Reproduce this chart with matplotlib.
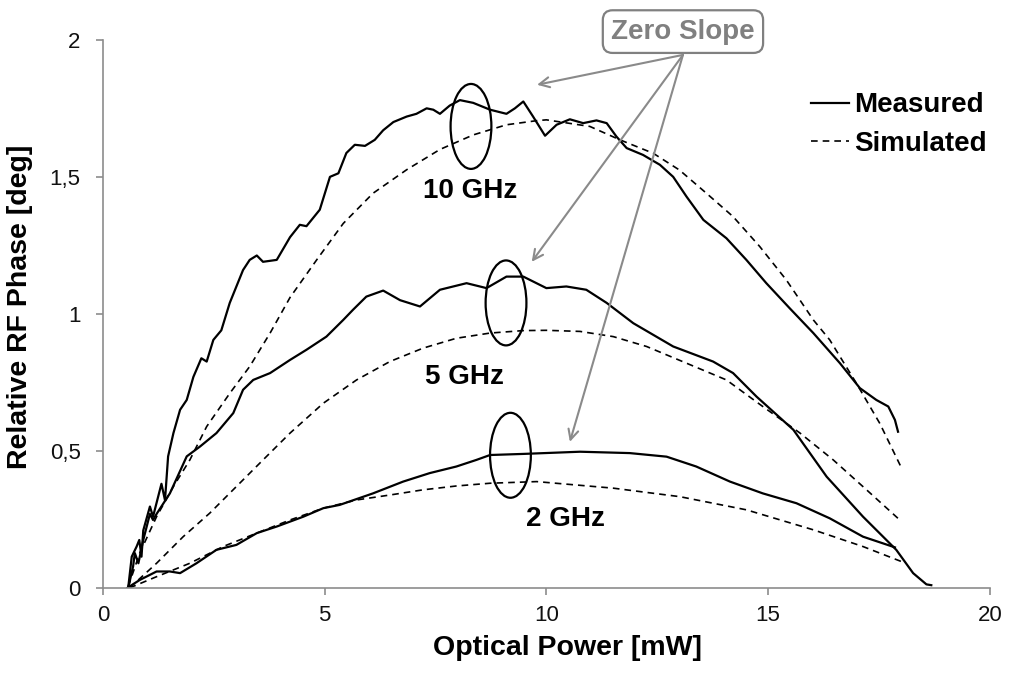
import matplotlib
matplotlib.use("Agg")
import matplotlib.pyplot as plt
from matplotlib.patches import Ellipse
from matplotlib.ticker import FuncFormatter

plt.rcParams['font.family'] = ['Liberation Sans', 'DejaVu Sans']

# ---- data ----
# 10 GHz measured
x10_meas = [0.57, 0.65, 0.76, 0.82, 0.87, 0.91, 1.06, 1.13, 1.32, 1.40, 1.47, 1.59, 1.74, 1.89,
            2.04, 2.22, 2.34, 2.49, 2.67, 2.86, 3.01, 3.16, 3.31, 3.47, 3.61, 3.92, 4.22, 4.44,
            4.59, 4.89, 5.12, 5.31, 5.49, 5.68, 5.91, 6.13, 6.32, 6.55, 6.85, 7.07, 7.30, 7.45,
            7.60, 7.82, 8.05, 8.35, 8.73, 9.10, 9.29, 9.48, 9.70, 9.97, 10.23, 10.53, 10.83,
            11.13, 11.36, 11.58, 11.81, 12.18, 12.56, 12.86, 13.16, 13.54, 14.06, 14.51, 14.96,
            15.49, 16.02, 16.62, 17.07, 17.44, 17.71, 17.86, 17.93]
y10_meas = [0.0, 0.114, 0.151, 0.175, 0.114, 0.21, 0.297, 0.26, 0.38, 0.32, 0.48, 0.565, 0.65, 0.686,
            0.77, 0.838, 0.826, 0.905, 0.94, 1.04, 1.10, 1.16, 1.197, 1.213, 1.19, 1.197, 1.28, 1.325,
            1.32, 1.38, 1.50, 1.513, 1.587, 1.617, 1.613, 1.635, 1.67, 1.70, 1.72, 1.73, 1.75, 1.745,
            1.73, 1.76, 1.78, 1.77, 1.745, 1.73, 1.75, 1.775, 1.72, 1.65, 1.69, 1.71, 1.696,
            1.706, 1.696, 1.647, 1.605, 1.58, 1.544, 1.50, 1.428, 1.343, 1.276, 1.197, 1.112,
            1.02, 0.93, 0.82, 0.729, 0.686, 0.662, 0.613, 0.57]

# 10 GHz simulated
x10_sim = [0.57, 0.83, 1.21, 1.59, 1.96, 2.34, 2.86, 3.31, 3.77, 4.22, 4.82, 5.42, 6.09, 6.85,
           7.60, 8.35, 9.10, 9.78, 10.0, 10.98, 11.66, 12.41, 13.0, 13.61, 14.21, 14.81, 15.41,
           16.02, 16.39, 16.99, 17.52, 18.01]
y10_sim = [0.005, 0.127, 0.26, 0.37, 0.467, 0.589, 0.71, 0.808, 0.93, 1.06, 1.197, 1.33, 1.44, 1.526,
           1.60, 1.653, 1.69, 1.705, 1.708, 1.684, 1.635, 1.586, 1.525, 1.44, 1.355, 1.246, 1.124,
           0.978, 0.905, 0.747, 0.60, 0.437]

# 5 GHz measured
x5_meas = [0.57, 0.68, 0.72, 0.80, 0.91, 1.06, 1.13, 1.21, 1.51, 1.89, 2.19, 2.56, 2.94, 3.16,
           3.39, 3.77, 4.22, 4.59, 5.04, 5.42, 5.64, 5.94, 6.32, 6.70, 7.15, 7.60, 8.20, 8.65,
           9.10, 9.48, 10.0, 10.45, 10.90, 11.36, 11.96, 12.86, 13.76, 14.21, 14.74, 15.57,
           16.32, 17.14, 17.89, 18.27, 18.57, 18.68]
y5_meas = [0.0, 0.078, 0.127, 0.09, 0.175, 0.27, 0.248, 0.27, 0.345, 0.48, 0.516, 0.565, 0.638, 0.723,
           0.759, 0.784, 0.832, 0.869, 0.917, 0.978, 1.015, 1.063, 1.085, 1.05, 1.027, 1.088, 1.112, 1.094,
           1.136, 1.136, 1.094, 1.10, 1.088, 1.04, 0.966, 0.881, 0.826, 0.784, 0.698, 0.577,
           0.406, 0.26, 0.139, 0.054, 0.013, 0.01]

# 5 GHz simulated
x5_sim = [0.60, 1.21, 1.81, 2.41, 3.01, 3.61, 4.22, 4.97, 5.72, 6.47, 7.22, 7.97, 8.73, 9.48,
          10.0, 10.76, 11.51, 12.26, 13.16, 14.06, 14.88, 15.72, 16.47, 17.22, 18.01]
y5_sim = [0.0, 0.09, 0.187, 0.273, 0.37, 0.467, 0.565, 0.674, 0.759, 0.826, 0.875, 0.911, 0.93, 0.939,
          0.94, 0.936, 0.917, 0.881, 0.82, 0.759, 0.662, 0.565, 0.467, 0.358, 0.242]

# 2 GHz measured
x2_meas = [0.55, 0.83, 1.21, 1.51, 1.74, 2.11, 2.56, 3.01, 3.47, 3.92, 4.52, 4.97, 5.34, 6.09,
           6.77, 7.37, 7.97, 8.42, 8.73, 9.48, 10.76, 11.88, 12.71, 13.38, 14.14, 14.88, 15.64,
           16.39, 17.14, 17.86]
y2_meas = [0.0, 0.029, 0.06, 0.06, 0.054, 0.09, 0.139, 0.157, 0.20, 0.224, 0.26, 0.291, 0.303, 0.345,
           0.388, 0.419, 0.443, 0.467, 0.485, 0.489, 0.497, 0.492, 0.479, 0.443, 0.388, 0.345, 0.309,
           0.254, 0.187, 0.148]

# 2 GHz simulated
x2_sim = [0.60, 1.21, 1.96, 2.71, 3.47, 4.22, 4.97, 5.72, 6.47, 7.22, 7.97, 8.73, 9.78, 11.51,
          13.01, 14.51, 16.02, 17.14, 18.01]
y2_sim = [0.0, 0.041, 0.09, 0.151, 0.20, 0.248, 0.291, 0.321, 0.339, 0.358, 0.372, 0.382, 0.388, 0.364,
          0.333, 0.285, 0.212, 0.151, 0.096]

# label positions and zero-slope markers (data coords)
freq_labels = ["10 GHz", "5 GHz", "2 GHz"]
label_xy = [(8.28, 1.45), (8.16, 0.77), (10.44, 0.25)]
ellipse_xy = [(8.30, 1.684), (9.09, 1.04), (9.19, 0.484)]
arrow_tips = [(9.79, 1.836), (9.67, 1.19), (10.53, 0.533)]
arrow_start = (13.08, 1.945)

fig = plt.figure(figsize=(10.09, 6.75), dpi=100)
ax = fig.add_axes([0.102, 0.129, 0.879, 0.812])

solid_kw = dict(color="black", lw=1.6, solid_joinstyle="round")
dash_kw = dict(color="black", lw=1.2, linestyle=(0, (4, 3)))

ax.plot(x10_meas, y10_meas, label="Measured", **solid_kw)
ax.plot(x10_sim, y10_sim, label="Simulated", **dash_kw)
ax.plot(x5_meas, y5_meas, **solid_kw)
ax.plot(x5_sim, y5_sim, **dash_kw)
ax.plot(x2_meas, y2_meas, **solid_kw)
ax.plot(x2_sim, y2_sim, **dash_kw)

for (ex, ey) in ellipse_xy:
    ax.add_patch(Ellipse((ex, ey), 0.92, 0.31, fill=False, ec="black", lw=1.6))

for txt, (tx, ty) in zip(freq_labels, label_xy):
    ax.text(tx, ty, txt, fontsize=20, fontweight="bold", ha="center", va="center")

ax.text(arrow_start[0], 2.03, "Zero Slope", fontsize=20, fontweight="bold", color="#808080",
        ha="center", va="center", clip_on=False,
        bbox=dict(boxstyle="round,pad=0.3,rounding_size=0.35", fc="white", ec="#808080", lw=1.6))
for tip in arrow_tips:
    ax.annotate("", xy=tip, xytext=arrow_start, annotation_clip=False,
                arrowprops=dict(arrowstyle="->", color="#8a8a8a", lw=1.5,
                                mutation_scale=18, shrinkA=0, shrinkB=0))

ax.set_xlim(0, 20)
ax.set_ylim(0, 2)
ax.set_xticks([0, 5, 10, 15, 20])
ax.set_yticks([0, 0.5, 1, 1.5, 2])
ax.yaxis.set_major_formatter(FuncFormatter(lambda v, p: ("%g" % v).replace(".", ",")))

for s in ["top", "right"]:
    ax.spines[s].set_visible(False)
for s in ["left", "bottom"]:
    ax.spines[s].set_color("#8c8c8c")
    ax.spines[s].set_linewidth(1.2)
ax.tick_params(direction="out", length=5, width=1.2, color="#8c8c8c",
               labelsize=16, labelcolor="#111111")
ax.tick_params(axis="x", pad=7)
ax.tick_params(axis="y", pad=11)

ax.set_xlabel("Optical Power [mW]", fontsize=20.5, fontweight="bold")
ax.xaxis.set_label_coords(0.524, -0.086)
ax.set_ylabel("Relative RF Phase [deg]", fontsize=20.5, fontweight="bold")
ax.yaxis.set_label_coords(-0.079, 0.512)

leg = ax.legend(loc="upper right", bbox_to_anchor=(1.025, 0.95), frameon=False,
                prop=dict(size=20, weight="bold"), handlelength=1.35, handletextpad=0.2,
                labelspacing=0.45)

fig.savefig("out.png", dpi=100)
